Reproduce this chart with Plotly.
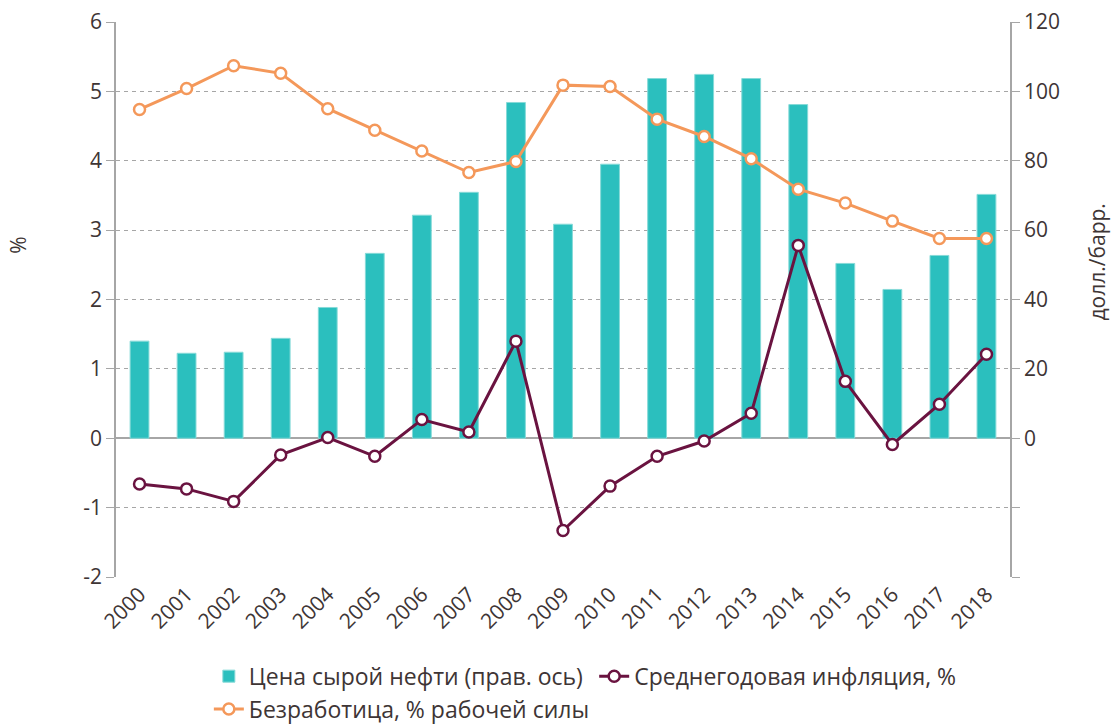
import plotly.graph_objects as go

# ── Data ──
years = [str(y) for y in range(2000, 2019)]
oil_price = [28.0, 24.5, 24.8, 28.8, 37.7, 53.3, 64.3, 70.9, 96.8, 61.7,
             79.0, 103.7, 104.9, 103.7, 96.2, 50.4, 42.9, 52.7, 70.3]
inflation = [-0.66, -0.73, -0.91, -0.24, 0.01, -0.26, 0.27, 0.09, 1.40, -1.33,
             -0.69, -0.26, -0.04, 0.36, 2.78, 0.82, -0.09, 0.49, 1.21]
unemployment = [4.74, 5.04, 5.37, 5.26, 4.75, 4.44, 4.14, 3.83, 3.99, 5.09,
                5.07, 4.60, 4.35, 4.03, 3.59, 3.39, 3.13, 2.88, 2.88]

left_ticks = [-2, -1, 0, 1, 2, 3, 4, 5, 6]
left_labels = ["-2", "-1", "0", "1", "2", "3", "4", "5", "6"]
right_ticks = [-40, -20, 0, 20, 40, 60, 80, 100, 120]
right_labels = ["", "", "0", "20", "40", "60", "80", "100", "120"]

COLORS = {
    "oil": "#2BBFBE",
    "oil_edge": "#86DAD8",
    "infl": "#6A1340",
    "unemp": "#F4985A",
    "text": "#3E3535",
    "axis": "#A6A6A6",
    "grid": "#A6A6A6",
}
FONT = "Open Sans, sans-serif"

fig = go.Figure()

fig.add_trace(go.Bar(
    x=years, y=oil_price, name="Цена сырой нефти (прав. ось)",
    marker=dict(color=COLORS["oil"], line=dict(color=COLORS["oil_edge"], width=1)),
    yaxis="y",
))
fig.add_trace(go.Scatter(
    x=years, y=inflation, name="Среднегодовая инфляция, %",
    mode="lines+markers",
    line=dict(color=COLORS["infl"], width=3),
    marker=dict(symbol="circle", size=11, color="white",
                line=dict(color=COLORS["infl"], width=2.5)),
    yaxis="y2",
))
fig.add_trace(go.Scatter(
    x=years, y=unemployment, name="Безработица, % рабочей силы",
    mode="lines+markers",
    line=dict(color=COLORS["unemp"], width=3),
    marker=dict(symbol="circle", size=11, color="white",
                line=dict(color=COLORS["unemp"], width=2.5)),
    yaxis="y2",
))

fig.update_layout(
    width=1114, height=726,
    plot_bgcolor="white", paper_bgcolor="white",
    font=dict(family=FONT, size=21, color=COLORS["text"]),
    margin=dict(l=116, r=104, t=22, b=149, autoexpand=False),
    bargap=0.6,
    showlegend=True,
    legend=dict(
        orientation="h", x=0.525, xanchor="center", y=-0.14, yanchor="top",
        font=dict(size=23, color=COLORS["text"]),
        itemwidth=30, tracegroupgap=0,
    ),
    xaxis=dict(
        type="category", range=[-0.5, len(years) - 0.5],
        tickangle=-45, showgrid=False, showline=False,
        ticks="", tickfont=dict(size=21),
    ),
    yaxis=dict(
        side="right", range=[-40, 120], tickvals=right_ticks, ticktext=right_labels,
        showgrid=True, gridcolor=COLORS["grid"], griddash="4px,4px", gridwidth=1,
        zeroline=True, zerolinecolor=COLORS["axis"], zerolinewidth=1.5,
        showline=True, linecolor=COLORS["axis"], linewidth=1.5,
        ticks="outside", ticklen=8, tickcolor=COLORS["axis"],
        ticklabeloverflow="allow",
    ),
    yaxis2=dict(
        overlaying="y", side="left", range=[-2, 6],
        tickvals=left_ticks, ticktext=left_labels,
        showgrid=False, zeroline=False,
        showline=True, linecolor=COLORS["axis"], linewidth=1.5,
        ticks="outside", ticklen=8, tickcolor=COLORS["axis"],
        ticklabeloverflow="allow",
    ),
    annotations=[
        dict(text="%", xref="paper", yref="paper", x=-0.11, y=0.598,
             xanchor="center", yanchor="middle", showarrow=False,
             textangle=-90, font=dict(size=21, color=COLORS["text"])),
        dict(text="долл./барр.", xref="paper", yref="paper", x=1.097, y=0.568,
             xanchor="center", yanchor="middle", showarrow=False,
             textangle=-90, font=dict(size=21, color=COLORS["text"])),
    ],
)

# drop the default body margin so the 1114x726 figure fills the window exactly
fig.write_html("out.html", config={"displayModeBar": False},
               post_script="document.body.style.margin = '0';")
